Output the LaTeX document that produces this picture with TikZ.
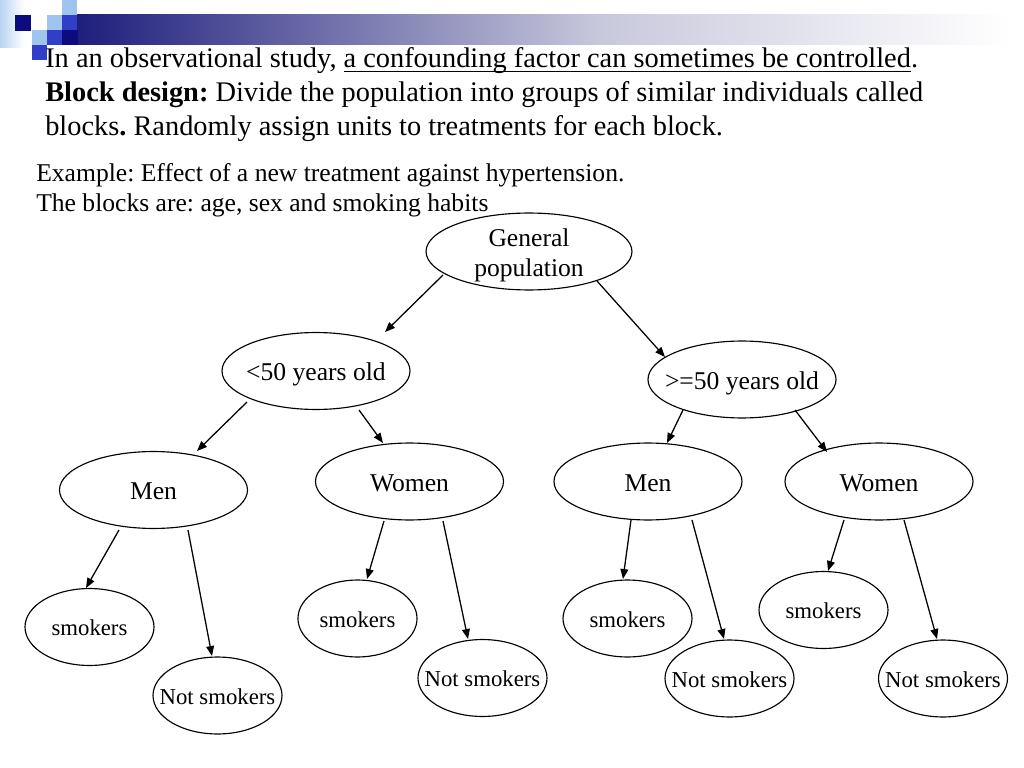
\documentclass[tikz,border=0pt]{standalone}
\usepackage{fontspec}
\setmainfont{Liberation Serif}
\usetikzlibrary{arrows.meta,shapes.geometric,calc}
\definecolor{navy}{RGB}{12,12,128}
\definecolor{royal}{RGB}{48,62,200}
\definecolor{lblue}{RGB}{160,196,240}
\definecolor{paleblue}{RGB}{185,212,242}
\definecolor{bardark}{RGB}{30,30,125}
\definecolor{barmid}{RGB}{200,200,220}
\def\myul#1{\setbox0\hbox{#1}\rlap{\rule[-2.6pt]{\wd0}{0.8pt}}\box0}
\frenchspacing
\begin{document}
\begin{tikzpicture}[x=0.703125pt,y=-0.703125pt,
  bigell/.style={ellipse,draw,line width=0.8pt,inner sep=0pt,minimum width=132.2pt,minimum height=54.1pt},
  smallell/.style={ellipse,draw,line width=0.8pt,inner sep=0pt,minimum width=90.7pt,minimum height=54.1pt},
  lblbig/.style={inner sep=0pt,font=\fontsize{18}{21.1}\selectfont,text height=13.7pt,text depth=0pt},
  lblsmall/.style={inner sep=0pt,font=\fontsize{16}{19}\selectfont,text height=12.2pt,text depth=0pt},
  gplbl/.style={inner sep=0pt,font=\fontsize{18}{21.1}\selectfont,align=center,yshift=-2.6pt},
  hdr/.style={inner sep=0pt,anchor=base west,font=\fontsize{19.95}{24}\selectfont},
  extxt/.style={inner sep=0pt,anchor=base west,font=\fontsize{18}{21.1}\selectfont},
  arr/.style={line width=0.9pt,-{Triangle[length=7pt,width=5.5pt]}},
]
\useasboundingbox (0,0) rectangle (1024,768);
\fill[white] (0,0) rectangle (1024,768);
% decoration
\shade[left color=paleblue,right color=white] (0,0) rectangle (24,48);
\shade[left color=bardark,right color=barmid] (77,15) rectangle (600,45);
\shade[left color=barmid,right color=white] (599.5,15) rectangle (1010,45);
\fill[lblue] (62,0) rectangle (77,15);
\fill[navy] (15,15) rectangle (31,31);
\fill[lblue] (47,15) rectangle (62,30);
\fill[royal] (62,15) rectangle (77,30);
\fill[lblue] (32,30) rectangle (47,45);
\fill[royal] (47,30) rectangle (62,45);
\fill[navy] (62,30) rectangle (77.5,45);
\fill[royal] (32,45) rectangle (47,60);
% header text
\node[hdr] (h1) at (45,68) {In an observational study, \myul{a confounding factor can sometimes be controlled}.};
\node[hdr] (h2) at (45,102) {\textbf{Block design:} Divide the population into groups of similar individuals called};
\node[hdr] (h3) at (45,136) {blocks\textbf{.} Randomly assign units to treatments for each block.};
\node[extxt] (e1) at (36,182) {Example: Effect of a new treatment against hypertension.};
\node[extxt] (e2) at (36,212) {The blocks are: age, sex and smoking habits};
% tree nodes
\node[bigell,minimum width=144.8pt,label={[gplbl]center:General\\population}] (gp) at (529,251.5) {};
\node[bigell,label={[lblbig]center:{<50 years old}}] (lt) at (316,371) {};
\node[bigell,label={[lblbig]center:{>=50 years old}}] (ge) at (742,379.5) {};
\node[bigell,label={[lblbig]center:Men}] (m1) at (153.5,490) {};
\node[bigell,label={[lblbig]center:Women}] (w1) at (409.5,481.5) {};
\node[bigell,label={[lblbig]center:Men}] (m2) at (648,481.5) {};
\node[bigell,label={[lblbig]center:Women}] (w2) at (879,481.5) {};
\node[smallell,label={[lblsmall]center:smokers}] (s1) at (89.5,627) {};
\node[smallell,label={[lblsmall]center:Not smokers}] (n1) at (217.5,695.5) {};
\node[smallell,minimum width=83.7pt,label={[lblsmall]center:smokers}] (s2) at (357.5,618.5) {};
\node[smallell,label={[lblsmall]center:Not smokers}] (n2) at (482.5,678) {};
\node[smallell,label={[lblsmall]center:smokers}] (s3) at (627.5,618.5) {};
\node[smallell,label={[lblsmall]center:Not smokers}] (n3) at (729.5,678.5) {};
\node[smallell,label={[lblsmall]center:smokers}] (s4) at (823.5,610) {};
\node[smallell,label={[lblsmall]center:Not smokers}] (n4) at (943,678.5) {};
% arrows
\draw[arr] ($(gp)+(-86,23.5)$) -- ($(lt)+(69,-39)$);
\draw[arr] ($(gp)+(68,29.5)$) -- ($(ge)+(-77,-22.5)$);
\draw[arr] ($(lt)+(-69,31)$) -- ($(m1)+(43.5,-39)$);
\draw[arr] ($(lt)+(43,39)$) -- ($(w1)+(-26.5,-38.5)$);
\draw[arr] ($(ge)+(-59,30.5)$) -- ($(m2)+(19,-38.5)$);
\draw[arr] ($(ge)+(53,30.5)$) -- ($(w2)+(-52,-29.5)$);
\draw[arr] ($(m1)+(-34.5,40)$) -- ($(s1)+(-3.5,-39)$);
\draw[arr] ($(m1)+(34.5,40)$) -- ($(n1)+(-5.5,-39.5)$);
\draw[arr] ($(w1)+(-25.5,39.5)$) -- ($(s2)+(9.5,-39.5)$);
\draw[arr] ($(w1)+(33.5,39.5)$) -- ($(n2)+(-14.5,-39)$);
\draw[arr] ($(m2)+(-17,38.5)$) -- ($(s3)+(-4.5,-39.5)$);
\draw[arr] ($(m2)+(44,38.5)$) -- ($(n3)+(-5.5,-39.5)$);
\draw[arr] ($(w2)+(-35,38.5)$) -- ($(s4)+(4.5,-39)$);
\draw[arr] ($(w2)+(25,38.5)$) -- ($(n4)+(-6,-39.5)$);
\end{tikzpicture}
\end{document}
